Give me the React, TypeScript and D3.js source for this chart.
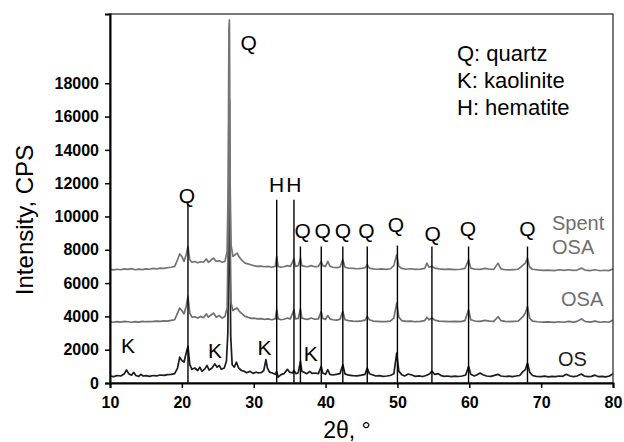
import React, { useEffect, useRef } from 'react'
import * as d3 from 'd3'

// 2θ (deg), intensity (CPS)
const osPattern: [number, number][] = [
  [10, 420], [10.5, 380], [11, 450], [11.5, 420], [12, 560], [12.3, 780], [12.6, 560], [13, 470], [13.3, 640], [13.6, 450],
  [14, 400], [14.3, 520], [14.6, 420], [15, 440], [15.5, 400], [16, 450], [16.5, 430], [17, 480], [17.5, 460], [18, 500],
  [18.5, 520], [19, 560], [19.4, 900], [19.7, 1550], [20, 1350], [20.3, 1250], [20.6, 1800], [20.85, 2200], [21.1, 1100], [21.4, 820],
  [21.8, 900], [22.2, 750], [22.5, 950], [22.8, 700], [23.2, 850], [23.5, 1050], [23.8, 780], [24.2, 900], [24.6, 1150], [24.9, 950],
  [25.2, 1050], [25.5, 820], [25.9, 900], [26.2, 1300], [26.4, 3000], [26.6, 12000], [26.8, 2800], [27.0, 1100], [27.3, 950], [27.6, 1250],
  [27.9, 900], [28.3, 750], [28.7, 700], [29.0, 620], [29.5, 700], [29.9, 580], [30.3, 650], [30.7, 600], [31.1, 640], [31.4, 750],
  [31.7, 1400], [31.9, 900], [32.2, 650], [32.6, 600], [33.0, 520], [33.2, 700], [33.4, 350], [33.8, 500], [34.2, 560], [34.7, 820],
  [35.0, 650], [35.4, 600], [35.6, 750], [35.9, 560], [36.2, 620], [36.5, 1300], [36.7, 700], [37.0, 650], [37.4, 560], [37.8, 700],
  [38.1, 580], [38.5, 600], [39.0, 560], [39.4, 1000], [39.6, 600], [40.0, 520], [40.3, 800], [40.6, 520], [41, 480], [41.5, 520],
  [42, 560], [42.4, 1100], [42.7, 550], [43.2, 470], [43.8, 440], [44.4, 430], [45, 470], [45.5, 520], [45.8, 900], [46.1, 560],
  [46.6, 480], [47, 420], [47.5, 440], [48, 400], [48.5, 420], [49, 450], [49.5, 550], [49.9, 1800], [50.2, 700], [50.6, 500],
  [51.0, 420], [51.5, 540], [52, 480], [52.5, 400], [53, 430], [53.5, 390], [54, 450], [54.5, 560], [54.8, 700], [55.2, 520],
  [55.7, 560], [56, 460], [56.5, 400], [57, 420], [57.5, 380], [58, 410], [58.5, 390], [59, 420], [59.5, 480], [59.9, 1000],
  [60.2, 520], [60.7, 420], [61.1, 500], [61.5, 600], [61.9, 500], [62.4, 420], [63, 400], [63.5, 460], [64, 520], [64.4, 420],
  [65, 390], [65.5, 410], [66, 380], [66.5, 420], [67, 450], [67.5, 700], [67.8, 800], [68.1, 1200], [68.4, 650], [68.8, 450],
  [69.3, 400], [70, 380], [70.5, 410], [71, 370], [71.5, 400], [72, 380], [72.5, 420], [73, 400], [73.5, 520], [74, 420],
  [74.5, 380], [75, 420], [75.6, 540], [76, 420], [76.5, 380], [77, 400], [77.5, 470], [78, 380], [78.5, 400], [79, 370],
  [79.5, 420], [80, 560],
]

const osaPattern: [number, number][] = [
  [10, 3680], [10.5, 3650], [11, 3690], [11.5, 3660], [12, 3700], [12.5, 3680], [13, 3650], [13.5, 3690], [14, 3660], [14.5, 3700],
  [15, 3680], [15.5, 3690], [16, 3700], [16.5, 3720], [17, 3700], [17.5, 3730], [18, 3720], [18.5, 3760], [19, 3800], [19.4, 4200],
  [19.7, 4500], [20.0, 4350], [20.3, 4150], [20.6, 4600], [20.85, 5200], [21.1, 4200], [21.4, 3950], [21.8, 3980], [22.2, 3900], [22.6, 4000],
  [23.0, 3920], [23.4, 4150], [23.7, 3950], [24.1, 4100], [24.4, 4200], [24.8, 3950], [25.2, 4050], [25.6, 3900], [26.0, 4000], [26.3, 4500],
  [26.45, 9000], [26.55, 16500], [26.65, 17000], [26.75, 8000], [26.85, 4800], [27.1, 4350], [27.4, 4450], [27.7, 4500], [28.0, 4300], [28.4, 4150],
  [28.8, 4000], [29.2, 3950], [29.6, 3880],
  [30.0, 3900], [30.5, 3850], [31.0, 3870], [31.5, 3820], [32.0, 3850], [32.5, 3800], [33.0, 3850], [33.2, 4400], [33.4, 3850], [33.8, 3800],
  [34.2, 3830], [34.7, 3900], [35.1, 3850], [35.6, 4400], [35.8, 3850], [36.2, 3880], [36.5, 4450], [36.7, 3900], [37.1, 3850], [37.5, 3820],
  [38.0, 3900], [38.5, 3830], [39.0, 3850], [39.4, 4300], [39.6, 3880], [40.0, 3820], [40.3, 4050], [40.6, 3850], [41.0, 3800], [41.5, 3780],
  [42.0, 3820], [42.4, 4300], [42.7, 3800], [43.2, 3750], [43.8, 3720], [44.4, 3700], [45.0, 3730], [45.5, 3780], [45.8, 4000], [46.1, 3800],
  [46.6, 3720], [47.2, 3700], [47.8, 3680], [48.4, 3690], [49.0, 3720], [49.5, 3900], [49.9, 4800], [50.2, 3950], [50.6, 3750], [51.2, 3700],
  [51.8, 3720], [52.5, 3680], [53.2, 3700], [53.8, 3750], [54.1, 3950], [54.4, 3800], [54.8, 3900], [55.2, 3780], [55.8, 3720], [56.5, 3700],
  [57.2, 3680], [58.0, 3700], [58.8, 3690], [59.4, 3750], [59.9, 4400], [60.2, 3800], [60.8, 3720], [61.5, 3700], [62.2, 3760], [62.8, 3720],
  [63.4, 3700], [64.0, 3980], [64.4, 3750], [65.0, 3700], [65.6, 3680], [66.2, 3700], [66.8, 3720], [67.4, 3950], [67.8, 4200], [68.1, 4600],
  [68.4, 3900], [68.8, 3720], [69.5, 3680], [70.2, 3650], [71.0, 3670], [71.8, 3640], [72.5, 3680], [73.2, 3650], [73.8, 3700], [74.5, 3660],
  [75.0, 3700], [75.6, 3850], [76.1, 3700], [76.8, 3660], [77.5, 3720], [78.2, 3650], [78.8, 3680], [79.4, 3650], [80, 3780],
]

const spentPattern: [number, number][] = [
  [10, 6820], [10.5, 6790], [11, 6830], [11.5, 6800], [12, 6850], [12.5, 6820], [13, 6870], [13.5, 6800], [14, 6840], [14.5, 6810],
  [15, 6850], [15.5, 6830], [16, 6880], [16.5, 6850], [17, 6900], [17.5, 6880], [18, 6920], [18.5, 6950], [19, 7000], [19.4, 7400],
  [19.7, 7750], [20.0, 7600], [20.3, 7300], [20.6, 7700], [20.85, 8200], [21.1, 7400], [21.4, 7250], [21.8, 7300], [22.2, 7220], [22.6, 7280],
  [23.0, 7250], [23.4, 7450], [23.7, 7250], [24.1, 7400], [24.4, 7500], [24.8, 7300], [25.2, 7350], [25.6, 7250], [26.0, 7300], [26.3, 7900],
  [26.45, 12000], [26.55, 21300], [26.62, 21800], [26.72, 12000], [26.85, 8300], [27.1, 7600], [27.4, 7700], [27.7, 7800], [28.0, 7550], [28.4, 7350],
  [28.8, 7200], [29.2, 7150], [29.6, 7100],
  [30.0, 7050], [30.5, 7000], [31.0, 7020], [31.5, 6980], [32.0, 7000], [32.5, 6950], [33.0, 7000], [33.2, 7600], [33.4, 7000], [33.8, 6950],
  [34.2, 6980], [34.7, 7050], [35.1, 7000], [35.6, 7450], [35.8, 7000], [36.2, 7050], [36.5, 7500], [36.7, 7050], [37.1, 7000], [37.5, 6980],
  [38.0, 7050], [38.5, 6980], [39.0, 7000], [39.4, 7300], [39.6, 7050], [40.0, 7000], [40.3, 7300], [40.6, 7020], [41.0, 6950], [41.5, 6930],
  [42.0, 6960], [42.4, 7400], [42.7, 6950], [43.2, 6900], [43.8, 6880], [44.4, 6860], [45.0, 6880], [45.5, 6920], [45.8, 7100], [46.1, 6900],
  [46.6, 6850], [47.2, 6830], [47.8, 6850], [48.4, 6820], [49.0, 6860], [49.5, 7050], [49.9, 7700], [50.2, 7000], [50.6, 6880], [51.2, 6830],
  [51.8, 6860], [52.5, 6820], [53.2, 6840], [53.8, 6880], [54.1, 7200], [54.4, 6950], [54.8, 7000], [55.2, 6900], [55.8, 6850], [56.5, 6820],
  [57.2, 6840], [58.0, 6810], [58.8, 6830], [59.4, 6880], [59.9, 7400], [60.2, 6900], [60.8, 6830], [61.5, 6820], [62.2, 6880], [62.8, 6830],
  [63.4, 6820], [64.0, 7200], [64.4, 6850], [65.0, 6800], [65.6, 6790], [66.2, 6810], [66.8, 6830], [67.4, 7050], [67.8, 7200], [68.1, 7500],
  [68.4, 6950], [68.8, 6830], [69.5, 6790], [70.2, 6760], [71.0, 6780], [71.8, 6750], [72.5, 6800], [73.2, 6760], [73.8, 6800], [74.5, 6760],
  [75.0, 6780], [75.6, 6900], [76.1, 6780], [76.8, 6750], [77.5, 6800], [78.2, 6740], [78.8, 6770], [79.4, 6750], [80, 6850],
]

// reflection markers: 2θ and the height the line reaches
const markerPositions = [20.85, 33.2, 35.6, 36.5, 39.4, 42.4, 45.8, 50.0, 54.8, 59.9, 68.1]
const markerTops = [10750, 11000, 11000, 8200, 8200, 8200, 8200, 8250, 8200, 8200, 8200]

// phase letters placed over the peaks
const phaseLetters = ['Q', 'Q', 'H', 'H', 'Q', 'Q', 'Q', 'Q', 'Q', 'Q', 'Q', 'Q', 'K', 'K', 'K', 'K']
const phaseX = [20.7, 29.3, 33.2, 35.6, 36.8, 39.6, 42.4, 45.7, 49.8, 54.9, 59.8, 68.1, 12.5, 24.6, 31.5, 37.95]
const phaseY = [11290, 20420, 11950, 11950, 9130, 9130, 9130, 9130, 9490, 8950, 9250, 9250, 2280, 1980, 2160, 1800]

const legendLines = ['Q: quartz', 'K: kaolinite', 'H: hematite']
const xTicks = [10, 20, 30, 40, 50, 60, 70, 80]
const yTicks = [0, 2000, 4000, 6000, 8000, 10000, 12000, 14000, 16000, 18000]

export default function App () {
  const ref = useRef<SVGSVGElement>(null)

  useEffect(() => {
    const svg = d3.select(ref.current)
    svg.selectAll('*').remove()

    const left = 110, right = 613, top = 14, bottom = 383
    const font = 'Arial, "Liberation Sans", sans-serif'

    const x = d3.scaleLinear().domain([10, 80]).range([left, right])
    const y = d3.scaleLinear().domain([0, 22160]).range([bottom, top])

    const line = d3.line<[number, number]>()
      .x(d => x(d[0]))
      .y(d => y(d[1]))

    const traces = [
      { data: osPattern, color: '#1c1c1c' },
      { data: osaPattern, color: '#6e6e6e' },
      { data: spentPattern, color: '#747474' },
    ]

    svg.append('g')
      .selectAll('path')
      .data(traces)
      .enter()
      .append('path')
        .attr('d', d => line(d.data))
        .attr('fill', 'none')
        .attr('stroke', d => d.color)
        .attr('stroke-width', 1.7)
        .attr('stroke-linejoin', 'round')

    svg.append('g')
      .selectAll('line')
      .data(markerPositions)
      .enter()
      .append('line')
        .attr('x1', d => x(d))
        .attr('x2', d => x(d))
        .attr('y1', y(0))
        .attr('y2', (d, i) => y(markerTops[i]))
        .attr('stroke', '#000')
        .attr('stroke-width', 1.4)

    svg.append('g')
      .selectAll('text')
      .data(phaseLetters)
      .enter()
      .append('text')
        .attr('x', (d, i) => x(phaseX[i]))
        .attr('y', (d, i) => y(phaseY[i]))
        .attr('text-anchor', 'middle')
        .attr('dominant-baseline', 'central')
        .style('font-family', font)
        .style('font-size', '21px')
        .style('fill', '#000')
        .text(d => d)

    // frame
    svg.append('rect')
      .attr('x', left)
      .attr('y', top)
      .attr('width', right - left)
      .attr('height', bottom - top)
      .attr('fill', 'none')
      .attr('stroke', '#222')
      .attr('stroke-width', 1.2)

    const xAxis = svg.append('g')
      .attr('transform', `translate(0, ${bottom})`)
      .call(d3.axisBottom(x).tickValues(xTicks).tickSize(5).tickPadding(9).tickFormat(d3.format('d')))
    xAxis.select('.domain').attr('stroke', '#000').attr('stroke-width', 2)
    xAxis.selectAll('.tick line').attr('stroke-width', 1.5)
    xAxis.selectAll('text')
      .style('font-family', font)
      .style('font-size', '16px')
      .style('font-weight', 'bold')
      .attr('fill', '#000')

    const yAxis = svg.append('g')
      .attr('transform', `translate(${left}, 0)`)
      .call(d3.axisLeft(y).tickValues(yTicks).tickSize(5).tickPadding(6).tickFormat(d3.format('d')))
    yAxis.select('.domain').attr('stroke', '#000').attr('stroke-width', 2)
    yAxis.selectAll('.tick line').attr('stroke-width', 1.5)
    yAxis.selectAll('text')
      .style('font-family', font)
      .style('font-size', '16px')
      .style('font-weight', 'bold')
      .attr('fill', '#000')

    svg.append('text')
      .attr('transform', `translate(33, 220) rotate(-90)`)
      .attr('text-anchor', 'middle')
      .style('font-family', font)
      .style('font-size', '24px')
      .text('Intensity, CPS')

    svg.append('text')
      .attr('x', 347)
      .attr('y', 438)
      .attr('text-anchor', 'middle')
      .style('font-family', font)
      .style('font-size', '23px')
      .text('2θ, °')

    svg.append('g')
      .selectAll('text')
      .data(legendLines)
      .enter()
      .append('text')
        .attr('x', 457)
        .attr('y', (d, i) => 53 + i * 27)
        .attr('dominant-baseline', 'central')
        .style('font-family', font)
        .style('font-size', '22px')
        .text(d => d)

    const seriesLabels = [
      { text: 'Spent', x: 552, y: 223, color: '#6e6e6e' },
      { text: 'OSA', x: 552, y: 247, color: '#6e6e6e' },
      { text: 'OSA', x: 561, y: 299, color: '#6e6e6e' },
      { text: 'OS', x: 558, y: 359, color: '#1c1c1c' },
    ]
    svg.append('g')
      .selectAll('text')
      .data(seriesLabels)
      .enter()
      .append('text')
        .attr('x', d => d.x)
        .attr('y', d => d.y)
        .attr('dominant-baseline', 'central')
        .style('font-family', font)
        .style('font-size', '20px')
        .style('fill', d => d.color)
        .text(d => d.text)
  }, [])

  return (
    <svg
      ref={ref}
      width={624}
      height={442}
      style={{ position: 'absolute', left: 0, top: 0, background: '#fff' }}
    />
  )
}
